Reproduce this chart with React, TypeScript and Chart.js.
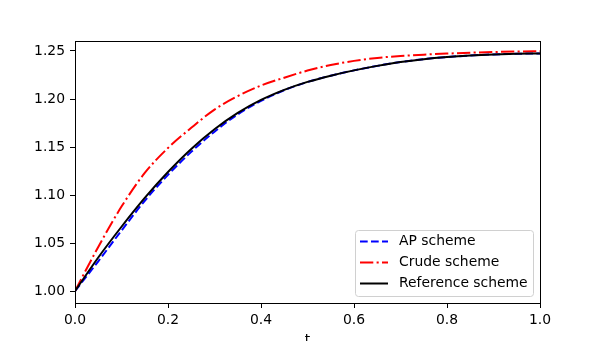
import React, { useEffect, useRef } from "react";
import { Chart, registerables } from "chart.js";

Chart.register(...registerables);

const tValues = [0, 0.05, 0.1, 0.15, 0.2, 0.25, 0.3, 0.35, 0.4, 0.45, 0.5, 0.55, 0.6, 0.65, 0.7, 0.75, 0.8, 0.85, 0.9, 0.95, 1.0];
const apScheme = [1.0, 1.031, 1.063, 1.094, 1.121, 1.145, 1.166, 1.184, 1.198, 1.2092, 1.2177, 1.2243, 1.2298, 1.2345, 1.2385, 1.2415, 1.2437, 1.2453, 1.2464, 1.2471, 1.2475];
const crudeScheme = [1.0, 1.046, 1.088, 1.123, 1.149, 1.17, 1.189, 1.203, 1.214, 1.2222, 1.2296, 1.2354, 1.2397, 1.2428, 1.2448, 1.2462, 1.2473, 1.2482, 1.2489, 1.2494, 1.2498];
const referenceScheme = [1.0, 1.035, 1.067, 1.097, 1.124, 1.148, 1.1685, 1.1855, 1.199, 1.2095, 1.2178, 1.2243, 1.2298, 1.2345, 1.2385, 1.2415, 1.2437, 1.2453, 1.2464, 1.2471, 1.2475];
const xTickValues = [0, 0.2, 0.4, 0.6, 0.8, 1.0];
const yTickValues = [1.0, 1.05, 1.1, 1.15, 1.2, 1.25];
const seriesLabels = ["AP scheme", "Crude scheme", "Reference scheme"];
const seriesColors = ["#0000ff", "#ff0000", "#000000"];
const seriesDashes = [[7.7, 3.3], [13.3, 3.3, 2.1, 3.3], []];
const xAxisTitle = "t";

const FONT = "DejaVu Sans";
const FS = 13.9;
const LW = 2;

const toPoints = (vals: number[]) => tValues.map((t, i) => ({ x: t, y: vals[i] }));

export default function App() {
  const ref = useRef<HTMLCanvasElement | null>(null);
  useEffect(() => {
    const canvas = ref.current;
    if (!canvas) return;
    const framePlugin = {
      id: "frameAndLegend",
      afterDraw(chart: any) {
        const ctx = chart.ctx;
        const a = chart.chartArea;
        ctx.save();
        ctx.strokeStyle = "#000";
        ctx.lineWidth = 1;
        ctx.setLineDash([]);
        ctx.strokeRect(Math.round(a.left) + 0.5, Math.round(a.top) + 0.5, Math.round(a.right - a.left), Math.round(a.bottom - a.top));
        // legend
        const bx = 355.5, by = 230.5, bw = 178, bh = 66, r = 3;
        ctx.beginPath();
        ctx.moveTo(bx + r, by);
        ctx.lineTo(bx + bw - r, by);
        ctx.quadraticCurveTo(bx + bw, by, bx + bw, by + r);
        ctx.lineTo(bx + bw, by + bh - r);
        ctx.quadraticCurveTo(bx + bw, by + bh, bx + bw - r, by + bh);
        ctx.lineTo(bx + r, by + bh);
        ctx.quadraticCurveTo(bx, by + bh, bx, by + bh - r);
        ctx.lineTo(bx, by + r);
        ctx.quadraticCurveTo(bx, by, bx + r, by);
        ctx.closePath();
        ctx.fillStyle = "rgba(255,255,255,0.8)";
        ctx.fill();
        ctx.strokeStyle = "#d0d0d0";
        ctx.stroke();
        const rows = [241.5, 262.5, 283.5];
        ctx.font = `${FS}px '${FONT}'`;
        ctx.textBaseline = "middle";
        ctx.textAlign = "left";
        seriesLabels.forEach((lab, i) => {
          ctx.beginPath();
          ctx.strokeStyle = seriesColors[i];
          ctx.lineWidth = LW;
          ctx.setLineDash(seriesDashes[i]);
          ctx.moveTo(360, rows[i]);
          ctx.lineTo(388, rows[i]);
          ctx.stroke();
          ctx.setLineDash([]);
          ctx.fillStyle = "#000";
          ctx.fillText(lab, 399, rows[i]);
        });
        // x axis title
        ctx.textAlign = "center";
        ctx.textBaseline = "alphabetic";
        ctx.fillText(xAxisTitle, (a.left + a.right) / 2, 344);
        ctx.restore();
      },
    };
    const chart = new Chart(canvas, {
      type: "scatter",
      data: {
        datasets: [
          { label: seriesLabels[0], data: toPoints(apScheme), borderColor: seriesColors[0], borderDash: seriesDashes[0], order: 2 },
          { label: seriesLabels[1], data: toPoints(crudeScheme), borderColor: seriesColors[1], borderDash: seriesDashes[1], order: 1 },
          { label: seriesLabels[2], data: toPoints(referenceScheme), borderColor: seriesColors[2], borderDash: seriesDashes[2], order: 0 },
        ].map((d) => ({
          ...d,
          showLine: true,
          pointRadius: 0,
          borderWidth: LW,
          cubicInterpolationMode: "monotone" as const,
          fill: false,
        })),
      },
      options: {
        animation: false,
        responsive: false,
        events: [],
        layout: { padding: { left: 0, right: 60, top: 41, bottom: 0 } },
        plugins: { legend: { display: false }, tooltip: { enabled: false } },
        scales: {
          x: {
            type: "linear",
            min: 0,
            max: 1,
            afterFit: (s: any) => { s.height = 38; },
            afterBuildTicks: (s: any) => { s.ticks = xTickValues.map((v) => ({ value: v })); },
            border: { display: false },
            grid: { drawOnChartArea: false, drawTicks: true, tickLength: 5, color: "#000", lineWidth: 1 },
            ticks: {
              color: "#000",
              padding: 4,
              maxRotation: 0,
              font: { family: FONT, size: FS },
              callback: (v: any) => Number(v).toFixed(1),
            },
          },
          y: {
            type: "linear",
            min: 0.9876,
            max: 1.2604,
            afterFit: (s: any) => { s.width = 75; },
            afterBuildTicks: (s: any) => { s.ticks = yTickValues.map((v) => ({ value: v })); },
            border: { display: false },
            grid: { drawOnChartArea: false, drawTicks: true, tickLength: 5, color: "#000", lineWidth: 1 },
            ticks: {
              color: "#000",
              padding: 5,
              font: { family: FONT, size: FS },
              callback: (v: any) => Number(v).toFixed(2),
            },
          },
        },
      },
      plugins: [framePlugin],
    });
    return () => chart.destroy();
  }, []);
  return (
    <div style={{ position: "fixed", left: 0, top: 0, width: 600, height: 341, background: "#fff" }}>
      <canvas ref={ref} width={600} height={341} style={{ width: 600, height: 341, display: "block" }} />
    </div>
  );
}
